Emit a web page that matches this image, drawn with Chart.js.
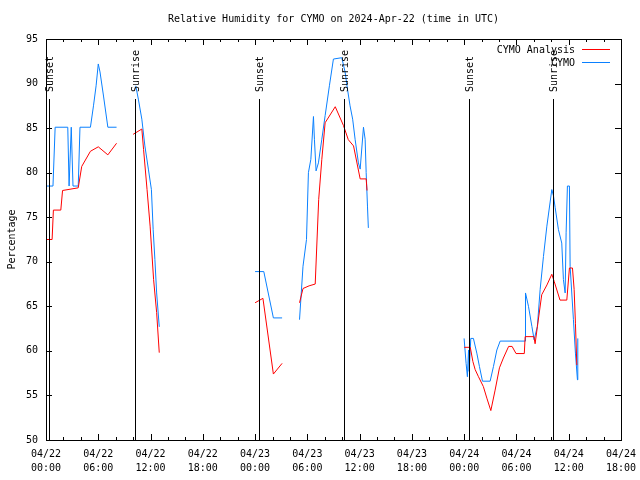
<!DOCTYPE html>
<html>
<head>
<meta charset="utf-8">
<script src="https://cdn.jsdelivr.net/npm/chart.js@4.4.1/dist/chart.umd.min.js"></script>
<style>
  html, body { margin: 0; padding: 0; background: #fff; }
  #wrap { width: 640px; height: 480px; }
</style>
</head>
<body>
<div id="wrap"><canvas id="myChart" width="640" height="480"></canvas></div>
<script>
// hours since 2024-04-22 00:00 UTC, null = gap in data
const analysisHours = [0.0, 0.7, 0.85, 1.7, 1.9, 3.7, 4.1, 5.1, 6.0, 7.1, 8.1, 9,
  10.0, 11.0, 11.2, 11.6, 11.95, 12.35, 12.7, 13.0, 18,
  24.0, 24.9, 26.1, 27.1, 28,
  29.1, 29.5, 30.2, 30.9, 31.3, 31.66, 32.04, 33.2, 34.14, 34.7, 35.3, 36.06, 36.75, 36.85, 40,
  48.0, 48.7, 49.0, 49.26, 49.64, 50.2, 50.6, 51.06, 51.55, 52.05, 52.5, 53.1, 53.5, 53.95, 54.9,
  55.0, 56.0, 56.14, 56.4, 56.9, 57.5, 58.06, 58.33, 59.0, 59.78, 60.08, 60.43, 60.62, 60.77, 60.93];
const analysisValues = [72.5, 72.5, 75.8, 75.8, 78.0, 78.3, 80.7, 82.4, 82.9, 82.0, 83.3, null,
  84.3, 84.9, 82.6, 78.1, 74.0, 68.0, 64.3, 59.8, null,
  65.4, 65.9, 57.4, 58.6, null,
  65.4, 67.0, 67.3, 67.5, 77.0, 81.5, 85.6, 87.4, 85.3, 83.7, 83.0, 79.3, 79.3, 78.0, null,
  60.4, 60.4, 58.8, 57.9, 57.1, 56.0, 54.7, 53.3, 55.6, 58.1, 59.2, 60.5, 60.5, 59.7, 59.7,
  61.6, 61.6, 60.8, 62.7, 66.3, 67.4, 68.6, 67.8, 65.7, 65.7, 69.3, 69.3, 66.9, 63.1, 58.4];

const obsHours = [0.0, 0.8, 1.05, 2.5, 2.65, 2.9, 3.1, 3.7, 3.9, 5.1, 5.45, 5.75, 6.0, 6.2, 6.6, 7.1, 8.1, 9,
  10.3, 10.6, 11.0, 11.35, 11.75, 12.1, 12.3, 12.5, 12.7, 13.0, 18,
  24.0, 25.0, 26.1, 27.1, 28,
  29.1, 29.5, 29.9, 30.12, 30.4, 30.7, 30.81, 31.0, 31.27, 31.66, 32.04, 32.53, 32.99, 33.95, 34.33,
  34.6, 34.9, 35.2, 35.48, 35.86, 36.06, 36.44, 36.63, 36.75, 36.9, 37.0, 40,
  47.99, 48.22, 48.37, 48.5, 48.57, 48.76, 49.06, 49.45, 49.75, 50.1, 50.98, 51.36, 51.75, 52.13, 55.0,
  55.04, 55.38, 55.77, 56.03, 56.4, 56.72, 57.1, 57.49, 58.06, 58.25, 58.44, 58.82, 59.2, 59.39, 59.59,
  59.7, 59.85, 60.08, 60.16, 60.54, 60.77, 61.0, 61.04];
const obsValues = [78.5, 78.5, 85.1, 85.1, 78.5, 85.1, 78.5, 78.5, 85.1, 85.1, 87.5, 89.75, 92.2, 91.3, 88.6, 85.1, 85.1, null,
  89.75, 88.25, 86.0, 83.0, 80.4, 78.1, 73.6, 70.25, 66.5, 62.7, null,
  68.9, 68.9, 63.7, 63.7, null,
  63.5, 69.5, 72.5, 80.0, 81.5, 86.3, 83.75, 80.2, 81.1, 83.75, 86.4, 89.75, 92.75, 92.9, 91.3,
  89.4, 87.5, 86.0, 83.75, 81.1, 80.4, 85.1, 83.75, 80.0, 76.25, 73.8, null,
  61.4, 58.6, 57.1, 60.1, 57.7, 61.4, 61.4, 59.75, 58.25, 56.6, 56.6, 58.25, 60.1, 61.1, 61.1,
  66.5, 65.0, 62.75, 61.25, 62.75, 66.9, 70.6, 74.0, 78.1, 77.4, 76.1, 73.6, 72.1, 68.0, 66.5,
  73.25, 78.5, 78.5, 69.5, 63.5, 59.75, 56.75, 61.4];

const sunHours = [0.35, 10.25, 24.5, 34.25, 48.5, 58.25];
const sunLabels = ['Sunset', 'Sunrise', 'Sunset', 'Sunrise', 'Sunset', 'Sunrise'];

const dayLabels = ['04/22', '04/23', '04/24'];
const yTicks = [50, 55, 60, 65, 70, 75, 80, 85, 90, 95];

const FONT = '10px "DejaVu Sans Mono", "Liberation Mono", monospace';
Chart.defaults.font.family = '"DejaVu Sans Mono", "Liberation Mono", monospace';
Chart.defaults.font.size = 10;
Chart.defaults.color = '#000';

const toPoints = (xs, ys) => xs.map((x, i) => ({ x: x, y: ys[i] }));

// frame, inward ticks, sun lines, legend, title and axis label
const decorPlugin = {
  id: 'decor',
  afterDraw(chart) {
    const ctx = chart.ctx;
    const a = chart.chartArea;
    const xs = chart.scales.x, ys = chart.scales.y;
    ctx.save();
    ctx.strokeStyle = '#000';
    ctx.lineWidth = 1;
    ctx.strokeRect(Math.round(a.left) + 0.5, Math.round(a.top) + 0.5,
      Math.round(a.right - a.left), Math.round(a.bottom - a.top));

    ctx.beginPath();
    for (let h = 0; h <= 66; h += 2) {
      const px = Math.round(xs.getPixelForValue(h)) + 0.5;
      const len = h % 6 === 0 ? 6 : 3;
      ctx.moveTo(px, a.bottom); ctx.lineTo(px, a.bottom - len);
      ctx.moveTo(px, a.top); ctx.lineTo(px, a.top + len);
    }
    yTicks.forEach(v => {
      const py = Math.round(ys.getPixelForValue(v)) + 0.5;
      ctx.moveTo(a.left, py); ctx.lineTo(a.left + 6, py);
      ctx.moveTo(a.right, py); ctx.lineTo(a.right - 6, py);
    });
    ctx.stroke();

    // sunrise / sunset markers
    ctx.font = FONT;
    ctx.fillStyle = '#000';
    sunHours.forEach((h, i) => {
      const px = Math.round(xs.getPixelForValue(h)) + 0.5;
      ctx.beginPath();
      ctx.moveTo(px, 99); ctx.lineTo(px, a.bottom);
      ctx.stroke();
      ctx.save();
      ctx.translate(px + 1, 92);
      ctx.rotate(-Math.PI / 2);
      ctx.textAlign = 'left';
      ctx.textBaseline = 'middle';
      ctx.fillText(sunLabels[i], 0, 0);
      ctx.restore();
    });

    // legend
    ctx.textAlign = 'right';
    ctx.textBaseline = 'middle';
    chart.data.datasets.forEach((ds, i) => {
      const y = 50 + i * 13;
      ctx.fillStyle = '#000';
      ctx.fillText(ds.label, 575, y);
      ctx.strokeStyle = ds.borderColor;
      ctx.beginPath();
      ctx.moveTo(582, y - 0.5); ctx.lineTo(610, y - 0.5);
      ctx.stroke();
    });

    // title and y label
    ctx.fillStyle = '#000';
    ctx.textAlign = 'center';
    ctx.fillText('Relative Humidity for CYMO on 2024-Apr-22 (time in UTC)', (a.left + a.right) / 2, 19);
    ctx.save();
    ctx.translate(12, (a.top + a.bottom) / 2);
    ctx.rotate(-Math.PI / 2);
    ctx.fillText('Percentage', 0, 0);
    ctx.restore();
    ctx.restore();
  }
};

const ctx = document.getElementById('myChart').getContext('2d');
new Chart(ctx, {
  type: 'line',
  data: {
    datasets: [
      {
        label: 'CYMO Analysis',
        data: toPoints(analysisHours, analysisValues),
        borderColor: '#ff0000',
        borderWidth: 1,
        pointRadius: 0,
        tension: 0,
        spanGaps: false,
      },
      {
        label: 'CYMO',
        data: toPoints(obsHours, obsValues),
        borderColor: '#0a80ff',
        borderWidth: 1,
        pointRadius: 0,
        tension: 0,
        spanGaps: false,
      },
    ],
  },
  options: {
    responsive: false,
    animation: false,
    layout: { padding: { top: 39, right: 19, left: 0, bottom: 0 } },
    plugins: { legend: { display: false }, title: { display: false }, tooltip: { enabled: false } },
    scales: {
      x: {
        type: 'linear',
        min: 0,
        max: 66,
        grid: { display: false, drawTicks: false },
        border: { display: false },
        ticks: {
          stepSize: 6,
          autoSkip: false,
          maxRotation: 0,
          padding: 7,
          font: { lineHeight: 1.4 },
          callback: (v) => {
            const hh = v % 24;
            return [dayLabels[Math.floor(v / 24)], (hh < 10 ? '0' : '') + hh + ':00'];
          },
        },
        afterFit: (scale) => { scale.height = 40; scale.paddingLeft = 0; scale.paddingRight = 0; },
      },
      y: {
        min: 50,
        max: 95,
        grid: { display: false, drawTicks: false },
        border: { display: false },
        ticks: { stepSize: 5, padding: 8 },
        afterFit: (scale) => { scale.width = 46; scale.paddingTop = 0; scale.paddingBottom = 0; },
      },
    },
  },
  plugins: [decorPlugin],
});
</script>
</body>
</html>
